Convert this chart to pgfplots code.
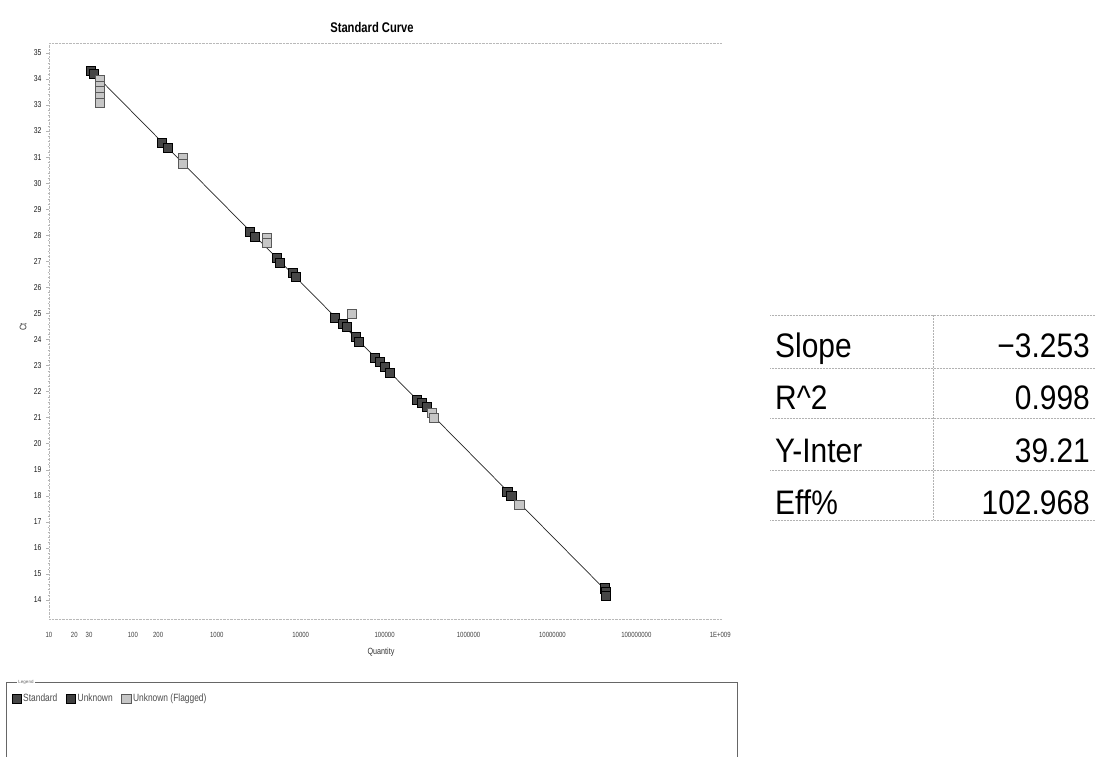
\documentclass[border=0pt]{standalone}
\usepackage{fontspec}
\setmainfont{Liberation Sans}
\newfontfamily\tablefont[FakeStretch=0.88]{Liberation Sans}
\newfontfamily\narrowfont[FakeStretch=0.8]{Liberation Sans}
\usepackage{pgfplots}
\pgfplotsset{compat=1.18}
\pgfplotstableread{
q ct
31.6 34.31
34.3 34.19
221 31.55
261 31.35
2472 28.13
2832 27.94
5176 27.13
5623 26.94
8035 26.55
8716 26.40
25400 24.83
31620 24.60
35320 24.48
45180 24.10
49000 23.91
76000 23.29
87100 23.14
100000 22.95
114800 22.72
240400 21.68
275400 21.56
316000 21.41
2.91e6 18.15
3.25e6 18.00
4.2e7 14.45
4.35e7 14.30
4.3e7 14.15
}\standard
\pgfplotstableread{
q ct
40.5 33.96
40.5 33.74
40.5 33.52
40.5 33.30
40.5 33.08
394 30.95
394 30.75
3936 27.90
3936 27.72
40460 24.98
363000 21.18
383000 20.99
4.05e6 17.65
}\flagged
\tikzset{
  stdmark/.style={only marks, mark=square*, mark size=4.7pt, mark options={fill=gray!55!black, draw=black, line width=0.6pt}},
  unkmark/.style={only marks, mark=square*, mark size=4.7pt, mark options={fill=black!75, draw=black, line width=0.6pt}},
  flagmark/.style={only marks, mark=square*, mark size=4.7pt, mark options={fill=gray!45, draw=gray!70!black, line width=0.6pt}},
}
\begin{document}
\begin{tikzpicture}[x=1pt,y=1pt]
\useasboundingbox (0,0) rectangle (1097,757);
\begin{axis}[
  at={(49pt,138pt)}, anchor=south west,
  width=673pt, height=576pt, scale only axis,
  xmode=log, log basis x=10,
  xmin=10, xmax=1.05e9, ymin=13.27, ymax=35.38,
  axis x line*=box, axis y line*=left,
  axis line style={gray!55, densely dotted},
  xtick={10,20,30,100,200,1000,1e4,1e5,1e6,1e7,1e8,1e9},
  xticklabels={10,20,30,100,200,1000,10000,100000,1000000,10000000,100000000,1E+009},
  xtick pos=left,
  major x tick style={draw=none},
  minor x tick num=0,
  xticklabel style={font=\narrowfont\fontsize{7.5}{7.5}\selectfont, text=black!75, yshift=-7pt},
  ytick={14,...,35},
  ytick pos=left,
  minor y tick num=4,
  tick align=outside,
  major tick length=3pt, minor tick length=1.5pt,
  every tick/.style={gray!60, thin},
  yticklabel style={font=\narrowfont\fontsize{8.5}{8.5}\selectfont, text=black!90, xshift=-1pt},
  /pgf/number format/assume math mode=true,
  clip=false,
  legend style={at={(axis description cs:-0.06,-0.123)}, anchor=north west, draw=none, fill=none,
    font=\narrowfont\fontsize{10.5}{10.5}\selectfont, text=black!70,
    /tikz/every even column/.append style={column sep=7pt}},
  legend columns=3,
  legend cell align=left,
]
\addplot[black!85, line width=0.7pt, forget plot] coordinates {(40,34.00) (4.5e7,14.31)};
\addplot[stdmark, forget plot] table[x=q,y=ct] {\standard};
\addplot[flagmark, forget plot] table[x=q,y=ct] {\flagged};
\addlegendimage{stdmark}
\addlegendentry{Standard}
\addlegendimage{unkmark}
\addlegendentry{Unknown}
\addlegendimage{flagmark}
\addlegendentry{Unknown (Flagged)}
\end{axis}
% titles and labels
\node[font=\narrowfont\bfseries\fontsize{14}{14}\selectfont] at (372,729) {Standard Curve};
\node[font=\narrowfont\fontsize{9}{9}\selectfont, text=black!80] at (381,105) {Quantity};
\node[font=\narrowfont\fontsize{9.5}{9.5}\selectfont, text=black!80, rotate=90] at (23,430) {Ct};
% legend frame
\draw[black!60, line width=0.8pt] (6,0) -- (6,75) -- (737,75) -- (737,0);
\node[fill=white, inner sep=1pt, font=\fontsize{4.5}{4.5}\selectfont, text=black!60] at (26,75) {Legend};
% statistics table
\begin{scope}[gray!60, densely dotted, line width=0.5pt]
\foreach \yy in {442,389,339,287,237} {\draw (770,\yy) -- (1095,\yy);}
\draw (933,442) -- (933,237);
\end{scope}
\begin{scope}[font=\tablefont\fontsize{34}{34}\selectfont]
\node[anchor=base west, inner sep=0] at (775,399) {Slope};
\node[anchor=base east, inner sep=0] at (1090,399) {−3.253};
\node[anchor=base west, inner sep=0] at (775,347) {R\^{}2};
\node[anchor=base east, inner sep=0] at (1090,347) {0.998};
\node[anchor=base west, inner sep=0] at (775,294) {Y-Inter};
\node[anchor=base east, inner sep=0] at (1090,294) {39.21};
\node[anchor=base west, inner sep=0] at (775,242) {Eff\%};
\node[anchor=base east, inner sep=0] at (1090,242) {102.968};
\end{scope}
\end{tikzpicture}
\end{document}
